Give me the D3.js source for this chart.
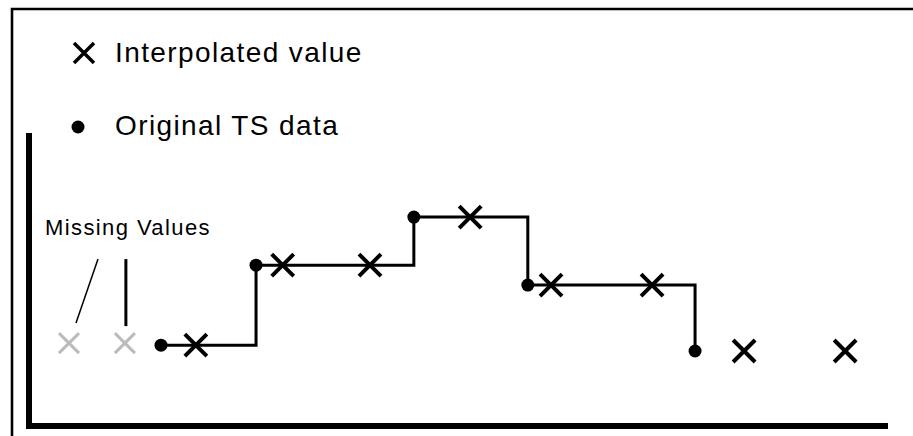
<!DOCTYPE html>
<html>
<head>
<meta charset="utf-8">
<script src="https://cdn.jsdelivr.net/npm/d3@7"></script>
<style>
  body { margin: 0; background: #fff; }
  text { font-family: 'Liberation Sans', Arial, sans-serif; fill: #000; }
</style>
</head>
<body>
<div id="chart"></div>
<script>
// original time series samples
const origT = [3.07, 5.28, 8.95, 11.6, 15.49]
const origV = [2.76, 5.49, 7.13, 4.81, 2.56]

// interpolated (step) values
const interpT = [3.88, 5.9, 7.93, 10.26, 12.14, 14.49, 16.63, 18.98]
const interpV = [2.76, 5.49, 5.49, 7.13, 4.81, 4.81, 2.56, 2.56]

// missing values before the first sample
const missingT = [0.93, 2.23]
const missingV = [2.83, 2.83]

const legendLabels = ['Interpolated value', 'Original TS data']
const missingLabel = 'Missing Values'

const size = { width: 913, height: 436 }

const svg = d3.select('#chart')
  .append('svg')
  .attr('width', size.width)
  .attr('height', size.height)

// frame (open on right and bottom)
svg.append('path')
  .attr('d', 'M12,440 V9 H920')
  .style('fill', 'none')
  .style('stroke', '#000')
  .style('stroke-width', 2.6)

const x = d3.scaleLinear().domain([0, 20]).range([29, 889])
const y = d3.scaleLinear().domain([0, 10]).range([426, 133])

// axes: plain thick lines, no ticks
svg.append('line')
  .attr('x1', x(0)).attr('x2', x(0))
  .attr('y1', y.range()[1]).attr('y2', y(0) + 3)
  .style('stroke', '#000').style('stroke-width', 6)
svg.append('line')
  .attr('x1', x(0) - 3).attr('x2', x.range()[1] - 1)
  .attr('y1', y(0)).attr('y2', y(0))
  .style('stroke', '#000').style('stroke-width', 6)

const cross = (g, cx, cy, r, color, w) => {
  g.append('path')
    .attr('d', `M${cx - r},${cy - r}L${cx + r},${cy + r}M${cx - r},${cy + r}L${cx + r},${cy - r}`)
    .style('fill', 'none')
    .style('stroke', color)
    .style('stroke-width', w)
}

// step line through the original samples
const orig = origT.map((t, i) => [t, origV[i]])
const line = d3.line()
  .x((d) => x(d[0]))
  .y((d) => y(d[1]))
  .curve(d3.curveStepAfter)

svg.append('path')
  .attr('d', line(orig))
  .style('fill', 'none')
  .style('stroke', '#000')
  .style('stroke-width', 3)

const marks = svg.append('g')

missingT.forEach((t, i) => cross(marks, x(t), y(missingV[i]), 10, '#bbb', 3))
interpT.forEach((t, i) => cross(marks, x(t), y(interpV[i]), 11, '#000', 4))

marks.selectAll('circle')
  .data(orig)
  .enter()
  .append('circle')
  .attr('cx', (d) => x(d[0]))
  .attr('cy', (d) => y(d[1]))
  .attr('r', 6.5)
  .style('fill', '#000')

// missing values annotation
const m0 = [x(missingT[0]), y(missingV[0])]
const m1 = [x(missingT[1]), y(missingV[1])]
svg.append('line')
  .attr('x1', m0[0] + 7).attr('y1', m0[1] - 20)
  .attr('x2', m0[0] + 29).attr('y2', m0[1] - 84)
  .style('stroke', '#000').style('stroke-width', 1.5)
svg.append('line')
  .attr('x1', m1[0] + 1).attr('y1', m1[1] - 17)
  .attr('x2', m1[0] + 1).attr('y2', m1[1] - 84)
  .style('stroke', '#000').style('stroke-width', 3)
svg.append('text')
  .attr('x', 45)
  .attr('y', 235)
  .style('font-size', '22px')
  .style('letter-spacing', '1.4px')
  .text(missingLabel)

// legend
const legend = svg.append('g')
cross(legend, 84, 53, 10, '#000', 3.5)
legend.append('circle')
  .attr('cx', 78).attr('cy', 127).attr('r', 6.5)
  .style('fill', '#000')
legend.selectAll('text')
  .data(legendLabels)
  .enter()
  .append('text')
  .attr('x', 115)
  .attr('y', (d, i) => 62 + i * 73)
  .style('font-size', '28px')
  .style('letter-spacing', '1.4px')
  .text((d) => d)
</script>
</body>
</html>
